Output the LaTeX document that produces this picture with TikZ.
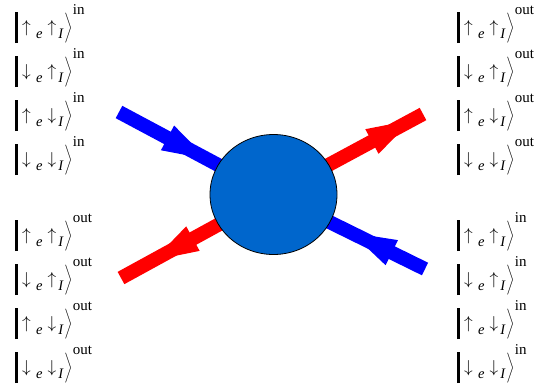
\documentclass[tikz,border=0pt]{standalone}
\usepackage{fontspec}
\setmainfont{Liberation Serif}
\usetikzlibrary{decorations.markings,shapes.geometric}
\definecolor{ballblue}{RGB}{0,102,204}
\newcommand\sub[1]{\raisebox{-6pt}{\fontsize{14.5}{14.5}\selectfont\itshape #1}}
\newcommand\myket[3]{%
  \rule[-11pt]{2.4pt}{31pt}\hspace{4.5pt}$#1$\hspace{5.5pt}\sub{e}\hspace{5pt}$#2$\hspace{2pt}\sub{I}%
  \hspace{0pt}$\left.\vrule height 21pt depth 16pt width 0pt\right\rangle$%
  \hspace{0.5pt}\raisebox{18pt}{\fontsize{15}{15}\selectfont #3}}
\tikzset{
  ket/.style={anchor=base west, inner sep=0pt, font=\fontsize{16}{16}\selectfont},
  leg/.style={line width=14pt},
  bluelg/.style={leg, draw=blue},
  redlg/.style={leg, draw=red},
  headat/.style 2 args={postaction={decorate}, decoration={markings,
     mark=at position #1 with {\fill[#2] (0,0) -- (-45pt,14pt) -- (-45pt,-14pt) -- cycle;}}},
  ball/.style={ellipse, draw=black, line width=0.8pt, fill=ballblue, minimum width=127pt, minimum height=120pt, inner sep=0pt}
}
\begin{document}
\begin{tikzpicture}[x=1pt,y=-1pt]
\useasboundingbox (0,0) rectangle (548,389);
% coordinates
\coordinate (cc) at (273.5,194.5);
\coordinate (ul) at (119,112);
\coordinate (ur) at (423,114);
\coordinate (ll) at (121,278);
\coordinate (lr) at (425,269);
% legs
\draw[bluelg, headat={100pt}{blue}] (ul) -- (cc);
\draw[redlg, headat={-13pt}{red}] (cc) -- (ur);
\draw[redlg, headat={-37pt}{red}] (cc) -- (ll);
\draw[bluelg, headat={82pt}{blue}] (lr) -- (cc);
\node[ball] (c) at (cc) {};
% kets left top
\node[ket] (lt1) at (15,32) {\myket{\uparrow}{\uparrow}{in}};
\node[ket] (lt2) at (15,76) {\myket{\downarrow}{\uparrow}{in}};
\node[ket] (lt3) at (15,120) {\myket{\uparrow}{\downarrow}{in}};
\node[ket] (lt4) at (15,164) {\myket{\downarrow}{\downarrow}{in}};
% right top
\node[ket] (rt1) at (457,32) {\myket{\uparrow}{\uparrow}{out}};
\node[ket] (rt2) at (457,76) {\myket{\downarrow}{\uparrow}{out}};
\node[ket] (rt3) at (457,120) {\myket{\uparrow}{\downarrow}{out}};
\node[ket] (rt4) at (457,164) {\myket{\downarrow}{\downarrow}{out}};
% left bottom
\node[ket] (lb1) at (15,240) {\myket{\uparrow}{\uparrow}{out}};
\node[ket] (lb2) at (15,284) {\myket{\downarrow}{\uparrow}{out}};
\node[ket] (lb3) at (15,328) {\myket{\uparrow}{\downarrow}{out}};
\node[ket] (lb4) at (15,372) {\myket{\downarrow}{\downarrow}{out}};
% right bottom
\node[ket] (rb1) at (457,240) {\myket{\uparrow}{\uparrow}{in}};
\node[ket] (rb2) at (457,284) {\myket{\downarrow}{\uparrow}{in}};
\node[ket] (rb3) at (457,328) {\myket{\uparrow}{\downarrow}{in}};
\node[ket] (rb4) at (457,372) {\myket{\downarrow}{\downarrow}{in}};
\end{tikzpicture}
\end{document}
